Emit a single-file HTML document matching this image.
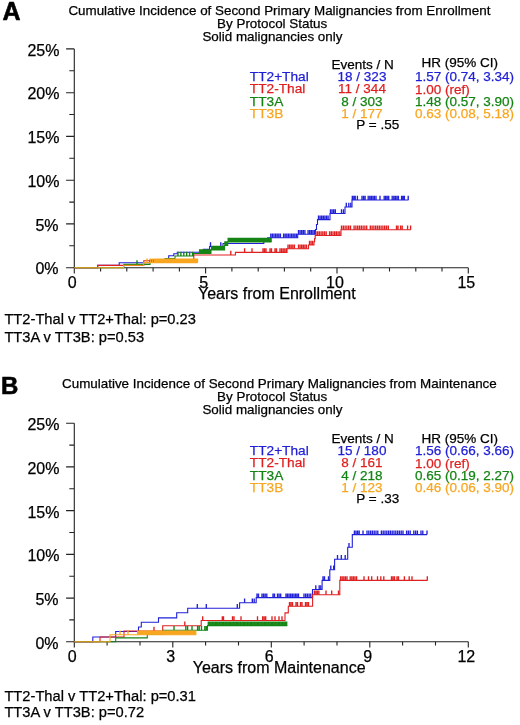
<!DOCTYPE html>
<html lang="en"><head><meta charset="utf-8"><title>Cumulative Incidence of Second Primary Malignancies</title>
<style>
html,body{margin:0;padding:0;background:#fff;}
svg{display:block}
text{font-family:"Liberation Sans",Arial,sans-serif;fill:#000;stroke:#000;stroke-width:0.25px}
.t13{font-size:13px}
.t16{font-size:16px}
.tt{font-size:13.4px}
.tl{font-size:13.5px}
.tn{font-size:13.7px}
.tf{font-size:14.7px}
.big{font-size:25px;font-weight:bold;fill:#000;stroke:#000;stroke-width:0.6px;stroke-linejoin:round}
.mid{text-anchor:middle}
.end{text-anchor:end}
</style></head><body>
<svg width="520" height="725" viewBox="0 0 520 725">
<defs><filter id="idf" x="0" y="0" width="520" height="725" filterUnits="userSpaceOnUse"><feOffset dx="0" dy="0"/></filter></defs>
<rect width="520" height="725" fill="#fff"/>
<g filter="url(#idf)">
<text class="tt mid" x="279.4" y="14.7">Cumulative Incidence of Second Primary Malignancies from Enrollment</text>
<text class="tt mid" x="272.2" y="27.5">By Protocol Status</text>
<text class="tt mid" x="272.4" y="40.8">Solid malignancies only</text>
<text class="big" style="font-size:25px" x="2.4" y="19.7">A</text>
<path d="M74.3 48.9V267.7H468.3M74.3 267.7h-8.2M74.3 245.8h-5M74.3 223.9h-8.2M74.3 202.1h-5M74.3 180.2h-8.2M74.3 158.3h-5M74.3 136.4h-8.2M74.3 114.5h-5M74.3 92.7h-8.2M74.3 70.8h-5M74.3 48.9h-8.2" fill="none" stroke="#222" stroke-width="1.1"/>
<path d="M74.3 267.7v5.8M100.6 267.7v3.8M126.8 267.7v3.8M153.1 267.7v3.8M179.4 267.7v3.8M205.6 267.7v5.8M231.9 267.7v3.8M258.2 267.7v3.8M284.4 267.7v3.8M310.7 267.7v3.8M337.0 267.7v5.8M363.2 267.7v3.8M389.5 267.7v3.8M415.8 267.7v3.8M442.0 267.7v3.8M468.3 267.7v5.8" fill="none" stroke="#222" stroke-width="1.1"/>
<text class="t16 end" x="58.5" y="274.4">0%</text>
<text class="t16 end" x="58.5" y="230.6">5%</text>
<text class="t16 end" x="59.5" y="186.9">10%</text>
<text class="t16 end" x="59.5" y="143.1">15%</text>
<text class="t16 end" x="59.5" y="99.4">20%</text>
<text class="t16 end" x="59.5" y="55.6">25%</text>
<text class="t16 mid" x="72.3" y="288.2">0</text>
<text class="t16 mid" x="203.6" y="288.2">5</text>
<text class="t16 mid" x="335.0" y="288.2">10</text>
<text class="t16 mid" x="466.3" y="288.2">15</text>
<text class="t16" x="198" y="298.5">Years from Enrollment</text>
<text class="tl mid" x="362.6" y="68.9">Events / N</text>
<text class="tl" x="421.6" y="66.7">HR (95% CI)</text>
<text class="tn" style="fill:#2020d8;stroke:#2020d8" x="249.8" y="81.0">TT2+Thal</text>
<text class="tl mid" style="fill:#2020d8;stroke:#2020d8" x="362.0" y="81.0">18 / 323</text>
<text class="tl" style="fill:#2020d8;stroke:#2020d8" x="415.0" y="81.2">1.57 (0.74, 3.34)</text>
<text class="tn" style="fill:#e02020;stroke:#e02020" x="249.8" y="93.3">TT2-Thal</text>
<text class="tl mid" style="fill:#e02020;stroke:#e02020" x="362.0" y="93.3">11 / 344</text>
<text class="tl" style="fill:#e02020;stroke:#e02020" x="415.0" y="93.5">1.00 (ref)</text>
<text class="tn" style="fill:#148414;stroke:#148414" x="249.8" y="105.7">TT3A</text>
<text class="tl mid" style="fill:#148414;stroke:#148414" x="362.0" y="105.7">8 / 303</text>
<text class="tl" style="fill:#148414;stroke:#148414" x="415.0" y="105.9">1.48 (0.57, 3.90)</text>
<text class="tn" style="fill:#f8a620;stroke:#f8a620" x="249.8" y="118.0">TT3B</text>
<text class="tl mid" style="fill:#f8a620;stroke:#f8a620" x="362.0" y="118.0">1 / 177</text>
<text class="tl" style="fill:#f8a620;stroke:#f8a620" x="415.0" y="118.2">0.63 (0.08, 5.18)</text>
<text class="tl" x="356.3" y="129.1">P = .55</text>
<path d="M74.3 267.7H97.7V265.4H119.2V262.8H150.0V260.0H168.7V255.8H173.8V253.7H177.3V252.3H203.3V249.4H209.6V246.5H223.0V243.5H263.8V240.5H267.7V237.7H297.7V234.2H315.5V229.5H316.5V224.5H317.5V219.6H330.0V213.5H345.0V207.0H352.0V200.0H408.5" fill="none" stroke="#2020d8" stroke-width="1.1"/>
<path d="M210.5 246.5v-4.2M220.8 246.5v-4.2M270.8 237.7v-4.2M272.4 237.7v-4.2M274.0 237.7v-4.2M275.6 237.7v-4.2M277.2 237.7v-4.2M278.8 237.7v-4.2M280.4 237.7v-4.2M283.6 237.7v-4.2M285.2 237.7v-4.2M286.8 237.7v-4.2M288.4 237.7v-4.2M290.0 237.7v-4.2M291.6 237.7v-4.2M293.2 237.7v-4.2M294.8 237.7v-4.2M296.4 237.7v-4.2M298.5 234.2v-4.2M300.1 234.2v-4.2M301.7 234.2v-4.2M303.3 234.2v-4.2M304.9 234.2v-4.2M308.1 234.2v-4.2M309.7 234.2v-4.2M311.3 234.2v-4.2M312.9 234.2v-4.2M314.5 234.2v-4.2M318.5 219.6v-4.2M320.1 219.6v-4.2M321.7 219.6v-4.2M323.3 219.6v-4.2M324.9 219.6v-4.2M326.5 219.6v-4.2M328.1 219.6v-4.2M330.5 213.5v-4.2M332.1 213.5v-4.2M333.7 213.5v-4.2M335.3 213.5v-4.2M341.5 213.5v-4.2M343.5 213.5v-4.2M346.3 207.0v-4.2M348.8 207.0v-4.2M350.8 207.0v-4.2M352.3 200.0v-4.2M353.8 200.0v-4.2M355.2 200.0v-4.2M357.4 200.0v-4.2M362.0 200.0v-4.2M363.6 200.0v-4.2M365.1 200.0v-4.2M368.2 200.0v-4.2M369.8 200.0v-4.2M371.3 200.0v-4.2M372.9 200.0v-4.2M374.4 200.0v-4.2M376.0 200.0v-4.2M380.0 200.0v-4.2M384.2 200.0v-4.2M385.7 200.0v-4.2M387.2 200.0v-4.2M388.7 200.0v-4.2M392.2 200.0v-4.2M393.8 200.0v-4.2M395.3 200.0v-4.2M396.9 200.0v-4.2M398.4 200.0v-4.2M401.6 200.0v-4.2M403.0 200.0v-4.2M404.4 200.0v-4.2M408.2 200.0v-4.2" fill="none" stroke="#2020d8" stroke-width="1.35"/>
<path d="M74.3 267.7H97.7V265.4H143.8V260.8H165.0V259.6H193.8V255.0H235.4V252.4H287.0V248.8H308.5V245.0H314.0V241.8H314.6V238.6H315.2V235.5H341.0V229.7H411.0" fill="none" stroke="#e02020" stroke-width="1.1"/>
<path d="M230.8 255.0v-4.2M244.6 252.4v-4.2M252.0 252.4v-4.2M263.0 252.4v-4.2M264.5 252.4v-4.2M266.0 252.4v-4.2M270.0 252.4v-4.2M271.5 252.4v-4.2M275.0 252.4v-4.2M276.5 252.4v-4.2M280.0 252.4v-4.2M281.6 252.4v-4.2M283.2 252.4v-4.2M284.8 252.4v-4.2M286.4 252.4v-4.2M288.0 248.8v-4.2M289.6 248.8v-4.2M291.2 248.8v-4.2M292.8 248.8v-4.2M294.4 248.8v-4.2M298.5 248.8v-4.2M300.1 248.8v-4.2M301.7 248.8v-4.2M303.3 248.8v-4.2M304.9 248.8v-4.2M306.5 248.8v-4.2M309.5 245.0v-4.2M311.1 245.0v-4.2M312.7 245.0v-4.2M316.0 235.5v-4.2M317.7 235.5v-4.2M319.4 235.5v-4.2M321.1 235.5v-4.2M322.8 235.5v-4.2M324.5 235.5v-4.2M326.2 235.5v-4.2M329.6 235.5v-4.2M331.3 235.5v-4.2M333.0 235.5v-4.2M334.7 235.5v-4.2M336.4 235.5v-4.2M338.1 235.5v-4.2M339.8 235.5v-4.2M341.5 229.7v-4.2M343.3 229.7v-4.2M345.1 229.7v-4.2M346.9 229.7v-4.2M348.7 229.7v-4.2M350.5 229.7v-4.2M354.1 229.7v-4.2M355.9 229.7v-4.2M357.7 229.7v-4.2M359.5 229.7v-4.2M361.3 229.7v-4.2M363.1 229.7v-4.2M364.9 229.7v-4.2M366.7 229.7v-4.2M370.3 229.7v-4.2M372.1 229.7v-4.2M373.9 229.7v-4.2M375.7 229.7v-4.2M377.5 229.7v-4.2M379.3 229.7v-4.2M381.1 229.7v-4.2M382.9 229.7v-4.2M384.7 229.7v-4.2M386.5 229.7v-4.2M388.3 229.7v-4.2M396.5 229.7v-4.2M398.0 229.7v-4.2M400.6 229.7v-4.2M402.2 229.7v-4.2M407.6 229.7v-4.2M410.6 229.7v-4.2" fill="none" stroke="#e02020" stroke-width="1.35"/>
<path d="M74.3 267.7H123.8V264.4H150.0V261.2H165.0V258.5H175.0V256.0H193.5V253.5H210.8V250.0H224.6V245.5H227.7V242.0H271.5" fill="none" stroke="#148414" stroke-width="1.1"/>
<path d="M137.0 264.4v-4.2M178.0 256.0v-4.2M180.9 256.0v-4.2M183.8 256.0v-4.2M186.7 256.0v-4.2M189.6 256.0v-4.2M192.5 256.0v-4.2M199.6 253.5v-4.2M200.7 253.5v-4.2M201.8 253.5v-4.2M202.9 253.5v-4.2M204.0 253.5v-4.2M205.1 253.5v-4.2M206.2 253.5v-4.2M207.3 253.5v-4.2M208.4 253.5v-4.2M209.5 253.5v-4.2M210.6 253.5v-4.2M211.7 250.0v-4.2M212.8 250.0v-4.2M213.9 250.0v-4.2M215.0 250.0v-4.2M216.1 250.0v-4.2M217.2 250.0v-4.2M218.3 250.0v-4.2M219.4 250.0v-4.2M220.5 250.0v-4.2M221.6 250.0v-4.2M222.7 250.0v-4.2M223.8 250.0v-4.2M224.9 245.5v-4.2M226.0 245.5v-4.2M227.1 245.5v-4.2M228.2 242.0v-4.2M229.3 242.0v-4.2M230.4 242.0v-4.2M231.5 242.0v-4.2M232.6 242.0v-4.2M233.7 242.0v-4.2M234.8 242.0v-4.2M235.9 242.0v-4.2M237.0 242.0v-4.2M238.1 242.0v-4.2M239.2 242.0v-4.2M240.3 242.0v-4.2M241.4 242.0v-4.2M242.5 242.0v-4.2M243.6 242.0v-4.2M244.7 242.0v-4.2M245.8 242.0v-4.2M246.9 242.0v-4.2M248.0 242.0v-4.2M249.1 242.0v-4.2M250.2 242.0v-4.2M251.3 242.0v-4.2M252.4 242.0v-4.2M253.5 242.0v-4.2M254.6 242.0v-4.2M255.7 242.0v-4.2M256.8 242.0v-4.2M257.9 242.0v-4.2M259.0 242.0v-4.2M260.1 242.0v-4.2M261.2 242.0v-4.2M262.3 242.0v-4.2M263.4 242.0v-4.2M264.5 242.0v-4.2M265.6 242.0v-4.2M266.7 242.0v-4.2M267.8 242.0v-4.2M268.9 242.0v-4.2M270.0 242.0v-4.2M271.1 242.0v-4.2" fill="none" stroke="#148414" stroke-width="1.35"/>
<path d="M74.3 267.7H123.5V265.3H143.7V262.6H197.7" fill="none" stroke="#f8a620" stroke-width="1.1"/>
<path d="M147.0 262.6v-4.2M150.5 262.6v-4.2M152.5 262.6v-4.2M154.5 262.6v-4.2M155.5 262.6v-4.2M156.5 262.6v-4.2M157.5 262.6v-4.2M158.5 262.6v-4.2M159.5 262.6v-4.2M160.5 262.6v-4.2M161.5 262.6v-4.2M162.5 262.6v-4.2M163.5 262.6v-4.2M164.5 262.6v-4.2M165.5 262.6v-4.2M166.5 262.6v-4.2M167.5 262.6v-4.2M168.5 262.6v-4.2M169.5 262.6v-4.2M170.5 262.6v-4.2M171.5 262.6v-4.2M172.5 262.6v-4.2M173.5 262.6v-4.2M174.5 262.6v-4.2M175.5 262.6v-4.2M176.5 262.6v-4.2M177.5 262.6v-4.2M178.5 262.6v-4.2M179.5 262.6v-4.2M180.5 262.6v-4.2M181.5 262.6v-4.2M182.5 262.6v-4.2M183.5 262.6v-4.2M184.5 262.6v-4.2M185.5 262.6v-4.2M186.5 262.6v-4.2M187.5 262.6v-4.2M188.5 262.6v-4.2M189.5 262.6v-4.2M190.5 262.6v-4.2M191.5 262.6v-4.2M192.5 262.6v-4.2M193.5 262.6v-4.2M194.5 262.6v-4.2M195.5 262.6v-4.2M196.5 262.6v-4.2M197.5 262.6v-4.2" fill="none" stroke="#f8a620" stroke-width="1.35"/>
<text class="tf" x="4.4" y="324.2">TT2-Thal v TT2+Thal: p=0.23</text>
<text class="tf" x="4.4" y="341.6">TT3A v TT3B: p=0.53</text>
<text class="tt mid" x="279.4" y="387.9">Cumulative Incidence of Second Primary Malignancies from Maintenance</text>
<text class="tt mid" x="272.2" y="400.7">By Protocol Status</text>
<text class="tt mid" x="272.4" y="414.0">Solid malignancies only</text>
<text class="big" style="font-size:24px" x="1.1" y="394.1">B</text>
<path d="M74.3 423.2V641.8H468.3M74.3 641.8h-8.2M74.3 619.9h-5M74.3 598.1h-8.2M74.3 576.2h-5M74.3 554.4h-8.2M74.3 532.5h-5M74.3 510.6h-8.2M74.3 488.8h-5M74.3 466.9h-8.2M74.3 445.1h-5M74.3 423.2h-8.2" fill="none" stroke="#222" stroke-width="1.1"/>
<path d="M74.3 641.8v5.8M107.1 641.8v3.8M140.0 641.8v3.8M172.8 641.8v5.8M205.6 641.8v3.8M238.5 641.8v3.8M271.3 641.8v5.8M304.1 641.8v3.8M337.0 641.8v3.8M369.8 641.8v5.8M402.6 641.8v3.8M435.5 641.8v3.8M468.3 641.8v5.8" fill="none" stroke="#222" stroke-width="1.1"/>
<text class="t16 end" x="58.5" y="648.8">0%</text>
<text class="t16 end" x="58.5" y="605.0">5%</text>
<text class="t16 end" x="59.5" y="561.3">10%</text>
<text class="t16 end" x="59.5" y="517.6">15%</text>
<text class="t16 end" x="59.5" y="473.9">20%</text>
<text class="t16 end" x="59.5" y="430.1">25%</text>
<text class="t16 mid" x="72.3" y="662.3">0</text>
<text class="t16 mid" x="170.8" y="662.3">3</text>
<text class="t16 mid" x="269.3" y="662.3">6</text>
<text class="t16 mid" x="367.8" y="662.3">9</text>
<text class="t16 mid" x="466.3" y="662.3">12</text>
<text class="t16" x="192.7" y="672.6">Years from Maintenance</text>
<text class="tl mid" x="362.6" y="443.4">Events / N</text>
<text class="tl" x="421.6" y="443.1">HR (95% CI)</text>
<text class="tn" style="fill:#2020d8;stroke:#2020d8" x="249.8" y="455.1">TT2+Thal</text>
<text class="tl mid" style="fill:#2020d8;stroke:#2020d8" x="362.0" y="455.1">15 / 180</text>
<text class="tl" style="fill:#2020d8;stroke:#2020d8" x="415.0" y="455.3">1.56 (0.66, 3.66)</text>
<text class="tn" style="fill:#e02020;stroke:#e02020" x="249.8" y="467.4">TT2-Thal</text>
<text class="tl mid" style="fill:#e02020;stroke:#e02020" x="362.0" y="467.4">8 / 161</text>
<text class="tl" style="fill:#e02020;stroke:#e02020" x="415.0" y="467.6">1.00 (ref)</text>
<text class="tn" style="fill:#148414;stroke:#148414" x="249.8" y="479.8">TT3A</text>
<text class="tl mid" style="fill:#148414;stroke:#148414" x="362.0" y="479.8">4 / 218</text>
<text class="tl" style="fill:#148414;stroke:#148414" x="415.0" y="480.0">0.65 (0.19, 2.27)</text>
<text class="tn" style="fill:#f8a620;stroke:#f8a620" x="249.8" y="492.1">TT3B</text>
<text class="tl mid" style="fill:#f8a620;stroke:#f8a620" x="362.0" y="492.1">1 / 123</text>
<text class="tl" style="fill:#f8a620;stroke:#f8a620" x="415.0" y="492.3">0.46 (0.06, 3.90)</text>
<text class="tl" x="356.3" y="503.2">P = .33</text>
<path d="M74.3 641.8H92.8V637.0H115.7V631.5H138.5V627.0H141.3V622.3H158.5V617.9H176.7V612.7H187.7V608.2H239.6V602.7H256.2V597.6H312.5V589.5H322.1V580.4H329.8V569.8H334.6V559.2H347.7V547.3H352.3V534.6H427.0" fill="none" stroke="#2020d8" stroke-width="1.1"/>
<path d="M197.3 608.2v-4.2M206.3 608.2v-4.2M237.3 608.2v-4.2M244.6 602.7v-4.2M252.3 602.7v-4.2M254.2 602.7v-4.2M257.0 597.6v-4.2M258.5 597.6v-4.2M262.0 597.6v-4.2M263.6 597.6v-4.2M265.2 597.6v-4.2M266.8 597.6v-4.2M273.0 597.6v-4.2M274.5 597.6v-4.2M277.5 597.6v-4.2M279.1 597.6v-4.2M280.7 597.6v-4.2M286.0 597.6v-4.2M287.5 597.6v-4.2M289.1 597.6v-4.2M290.7 597.6v-4.2M292.3 597.6v-4.2M293.9 597.6v-4.2M295.5 597.6v-4.2M297.0 597.6v-4.2M298.5 597.6v-4.2M304.0 597.6v-4.2M305.7 597.6v-4.2M307.4 597.6v-4.2M309.1 597.6v-4.2M310.8 597.6v-4.2M315.8 589.5v-4.2M319.2 589.5v-4.2M320.8 589.5v-4.2M323.0 580.4v-4.2M324.5 580.4v-4.2M328.5 580.4v-4.2M330.8 569.8v-4.2M333.7 569.8v-4.2M337.5 559.2v-4.2M341.3 559.2v-4.2M345.2 559.2v-4.2M349.0 547.3v-4.2M354.4 534.6v-4.2M356.0 534.6v-4.2M357.6 534.6v-4.2M359.2 534.6v-4.2M363.0 534.6v-4.2M367.0 534.6v-4.2M368.8 534.6v-4.2M370.6 534.6v-4.2M372.4 534.6v-4.2M374.2 534.6v-4.2M376.0 534.6v-4.2M377.8 534.6v-4.2M381.4 534.6v-4.2M383.2 534.6v-4.2M385.0 534.6v-4.2M386.8 534.6v-4.2M388.6 534.6v-4.2M390.4 534.6v-4.2M392.2 534.6v-4.2M394.0 534.6v-4.2M395.8 534.6v-4.2M397.6 534.6v-4.2M399.4 534.6v-4.2M401.2 534.6v-4.2M403.0 534.6v-4.2M406.6 534.6v-4.2M408.4 534.6v-4.2M410.2 534.6v-4.2M413.8 534.6v-4.2M415.6 534.6v-4.2M417.4 534.6v-4.2M421.0 534.6v-4.2M422.8 534.6v-4.2M427.0 534.6v-4.2" fill="none" stroke="#2020d8" stroke-width="1.35"/>
<path d="M74.3 641.8H100.0V637.0H124.0V631.0H162.7V625.8H201.2V620.5H285.0V612.9H288.3V606.2H312.6V594.7H339.8V580.4H427.5" fill="none" stroke="#e02020" stroke-width="1.1"/>
<path d="M154.0 631.0v-4.2M184.8 625.8v-4.2M202.7 620.5v-4.2M222.3 620.5v-4.2M223.5 620.5v-4.2M232.5 620.5v-4.2M234.0 620.5v-4.2M241.0 620.5v-4.2M257.5 620.5v-4.2M262.7 620.5v-4.2M264.2 620.5v-4.2M265.7 620.5v-4.2M272.0 620.5v-4.2M275.0 620.5v-4.2M279.0 620.5v-4.2M282.0 620.5v-4.2M289.5 606.2v-4.2M291.0 606.2v-4.2M292.5 606.2v-4.2M296.0 606.2v-4.2M297.5 606.2v-4.2M300.5 606.2v-4.2M302.0 606.2v-4.2M305.5 606.2v-4.2M307.0 606.2v-4.2M308.5 606.2v-4.2M314.4 594.7v-4.2M315.9 594.7v-4.2M317.4 594.7v-4.2M318.9 594.7v-4.2M326.0 594.7v-4.2M331.7 594.7v-4.2M338.5 594.7v-4.2M340.6 580.4v-4.2M342.2 580.4v-4.2M343.8 580.4v-4.2M345.4 580.4v-4.2M347.0 580.4v-4.2M350.2 580.4v-4.2M351.8 580.4v-4.2M353.4 580.4v-4.2M355.0 580.4v-4.2M356.6 580.4v-4.2M364.0 580.4v-4.2M368.5 580.4v-4.2M371.7 580.4v-4.2M377.5 580.4v-4.2M380.8 580.4v-4.2M383.8 580.4v-4.2M391.5 580.4v-4.2M393.0 580.4v-4.2M394.5 580.4v-4.2M397.0 580.4v-4.2M398.5 580.4v-4.2M404.4 580.4v-4.2M409.2 580.4v-4.2M412.0 580.4v-4.2M427.3 580.4v-4.2" fill="none" stroke="#e02020" stroke-width="1.35"/>
<path d="M74.3 641.8H115.7V637.9H147.3V634.2H163.0V630.2H207.5V625.6H287.3" fill="none" stroke="#148414" stroke-width="1.1"/>
<path d="M174.0 630.2v-4.2M185.8 630.2v-4.2M187.6 630.2v-4.2M192.0 630.2v-4.2M197.6 630.2v-4.2M199.2 630.2v-4.2M201.5 630.2v-4.2M204.8 630.2v-4.2M206.3 630.2v-4.2M208.3 625.6v-4.2M209.7 625.6v-4.2M211.1 625.6v-4.2M212.5 625.6v-4.2M213.9 625.6v-4.2M215.3 625.6v-4.2M216.7 625.6v-4.2M218.1 625.6v-4.2M219.5 625.6v-4.2M220.9 625.6v-4.2M222.3 625.6v-4.2M223.7 625.6v-4.2M225.1 625.6v-4.2M226.5 625.6v-4.2M227.9 625.6v-4.2M229.3 625.6v-4.2M230.7 625.6v-4.2M232.1 625.6v-4.2M233.5 625.6v-4.2M234.9 625.6v-4.2M236.3 625.6v-4.2M237.7 625.6v-4.2M239.1 625.6v-4.2M240.5 625.6v-4.2M241.9 625.6v-4.2M243.3 625.6v-4.2M244.7 625.6v-4.2M246.1 625.6v-4.2M247.5 625.6v-4.2M248.9 625.6v-4.2M250.3 625.6v-4.2M251.7 625.6v-4.2M253.1 625.6v-4.2M254.5 625.6v-4.2M255.9 625.6v-4.2M257.3 625.6v-4.2M258.7 625.6v-4.2M260.1 625.6v-4.2M261.5 625.6v-4.2M262.9 625.6v-4.2M264.3 625.6v-4.2M265.7 625.6v-4.2M267.1 625.6v-4.2M268.5 625.6v-4.2M269.9 625.6v-4.2M271.3 625.6v-4.2M272.7 625.6v-4.2M274.1 625.6v-4.2M275.5 625.6v-4.2M276.9 625.6v-4.2M278.3 625.6v-4.2M279.7 625.6v-4.2M281.1 625.6v-4.2M282.5 625.6v-4.2M283.9 625.6v-4.2M285.3 625.6v-4.2M286.7 625.6v-4.2" fill="none" stroke="#148414" stroke-width="1.35"/>
<path d="M74.3 641.8H110.0V634.8H196.3" fill="none" stroke="#f8a620" stroke-width="1.1"/>
<path d="M120.0 634.8v-4.2M128.0 634.8v-4.2M137.7 634.8v-4.2M138.7 634.8v-4.2M139.7 634.8v-4.2M140.7 634.8v-4.2M141.7 634.8v-4.2M142.7 634.8v-4.2M143.7 634.8v-4.2M144.7 634.8v-4.2M145.7 634.8v-4.2M146.7 634.8v-4.2M147.7 634.8v-4.2M148.7 634.8v-4.2M149.7 634.8v-4.2M150.7 634.8v-4.2M151.7 634.8v-4.2M152.7 634.8v-4.2M153.7 634.8v-4.2M154.7 634.8v-4.2M155.7 634.8v-4.2M156.7 634.8v-4.2M157.7 634.8v-4.2M158.7 634.8v-4.2M159.7 634.8v-4.2M160.7 634.8v-4.2M161.7 634.8v-4.2M162.7 634.8v-4.2M163.7 634.8v-4.2M164.7 634.8v-4.2M165.7 634.8v-4.2M166.7 634.8v-4.2M167.7 634.8v-4.2M168.7 634.8v-4.2M169.7 634.8v-4.2M170.7 634.8v-4.2M171.7 634.8v-4.2M172.7 634.8v-4.2M173.7 634.8v-4.2M174.7 634.8v-4.2M175.7 634.8v-4.2M176.7 634.8v-4.2M177.7 634.8v-4.2M178.7 634.8v-4.2M179.7 634.8v-4.2M180.7 634.8v-4.2M181.7 634.8v-4.2M182.7 634.8v-4.2M183.7 634.8v-4.2M184.7 634.8v-4.2M185.7 634.8v-4.2M186.7 634.8v-4.2M187.7 634.8v-4.2M188.7 634.8v-4.2M189.7 634.8v-4.2M190.7 634.8v-4.2M191.7 634.8v-4.2M192.7 634.8v-4.2M193.7 634.8v-4.2M194.7 634.8v-4.2M195.7 634.8v-4.2" fill="none" stroke="#f8a620" stroke-width="1.35"/>
<text class="tf" x="4.4" y="700.7">TT2-Thal v TT2+Thal: p=0.31</text>
<text class="tf" x="4.4" y="717.2">TT3A v TT3B: p=0.72</text>
</g>
</svg>
</body></html>
